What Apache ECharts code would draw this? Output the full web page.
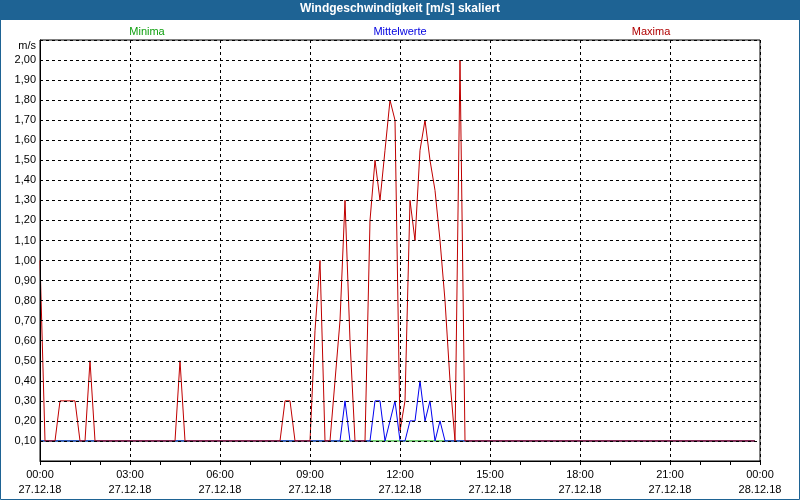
<!DOCTYPE html>
<html>
<head>
<meta charset="utf-8">
<script src="https://cdn.jsdelivr.net/npm/echarts@6/dist/echarts.min.js"></script>
<style>
html,body{margin:0;padding:0;background:#fff;}
#chart{width:800px;height:500px;}
</style>
</head>
<body>
<div id="chart"></div>
<script>
// ---- data (10-minute samples, 27.12.18 00:00 .. 23:50) ----
const titleText = 'Windgeschwindigkeit [m/s] skaliert';
const unitLabel = 'm/s';
const dayLabels = ['27.12.18', '28.12.18'];
const stepMinutes = 10;
const seriesNames = ['Minima', 'Mittelwerte', 'Maxima'];

const minValues = [
  0.1,0.1,0.1,0.1,0.1,0.1,0.1,0.1,0.1,0.1,0.1,0.1,
  0.1,0.1,0.1,0.1,0.1,0.1,0.1,0.1,0.1,0.1,0.1,0.1,
  0.1,0.1,0.1,0.1,0.1,0.1,0.1,0.1,0.1,0.1,0.1,0.1,
  0.1,0.1,0.1,0.1,0.1,0.1,0.1,0.1,0.1,0.1,0.1,0.1,
  0.1,0.1,0.1,0.1,0.1,0.1,0.1,0.1,0.1,0.1,0.1,0.1,
  0.1,0.1,0.1,0.1,0.1,0.1,0.1,0.1,0.1,0.1,0.1,0.1,
  0.1,0.1,0.1,0.1,0.1,0.1,0.1,0.1,0.1,0.1,0.1,0.1,
  0.1,0.1,0.1,0.1,0.1,0.1,0.1,0.1,0.1,0.1,0.1,0.1,
  0.1,0.1,0.1,0.1,0.1,0.1,0.1,0.1,0.1,0.1,0.1,0.1,
  0.1,0.1,0.1,0.1,0.1,0.1,0.1,0.1,0.1,0.1,0.1,0.1,
  0.1,0.1,0.1,0.1,0.1,0.1,0.1,0.1,0.1,0.1,0.1,0.1,
  0.1,0.1,0.1,0.1,0.1,0.1,0.1,0.1,0.1,0.1,0.1,0.1
];

const meanValues = [
  0.1,0.1,0.1,0.1,0.1,0.1,0.1,0.1,0.1,0.1,0.1,0.1,
  0.1,0.1,0.1,0.1,0.1,0.1,0.1,0.1,0.1,0.1,0.1,0.1,
  0.1,0.1,0.1,0.1,0.1,0.1,0.1,0.1,0.1,0.1,0.1,0.1,
  0.1,0.1,0.1,0.1,0.1,0.1,0.1,0.1,0.1,0.1,0.1,0.1,
  0.1,0.1,0.1,0.1,0.1,0.1,0.1,0.1,0.1,0.1,0.1,0.1,
  0.1,0.3,0.1,0.1,0.1,0.1,0.1,0.3,0.3,0.1,0.2,0.3,
  0.1,0.1,0.2,0.2,0.4,0.2,0.3,0.1,0.2,0.1,0.1,0.1,
  0.1,0.1,0.1,0.1,0.1,0.1,0.1,0.1,0.1,0.1,0.1,0.1,
  0.1,0.1,0.1,0.1,0.1,0.1,0.1,0.1,0.1,0.1,0.1,0.1,
  0.1,0.1,0.1,0.1,0.1,0.1,0.1,0.1,0.1,0.1,0.1,0.1,
  0.1,0.1,0.1,0.1,0.1,0.1,0.1,0.1,0.1,0.1,0.1,0.1,
  0.1,0.1,0.1,0.1,0.1,0.1,0.1,0.1,0.1,0.1,0.1,0.1
];

const maxValues = [
  1.0,0.1,0.1,0.1,0.3,0.3,0.3,0.3,0.1,0.1,0.5,0.1,
  0.1,0.1,0.1,0.1,0.1,0.1,0.1,0.1,0.1,0.1,0.1,0.1,
  0.1,0.1,0.1,0.1,0.5,0.1,0.1,0.1,0.1,0.1,0.1,0.1,
  0.1,0.1,0.1,0.1,0.1,0.1,0.1,0.1,0.1,0.1,0.1,0.1,
  0.1,0.3,0.3,0.1,0.1,0.1,0.1,0.65,1.0,0.1,0.1,0.4,
  0.7,1.3,0.6,0.1,0.1,0.1,1.2,1.5,1.3,1.55,1.8,1.7,
  0.15,0.3,1.3,1.1,1.55,1.7,1.5,1.35,1.1,0.8,0.4,0.1,
  2.0,0.1,0.1,0.1,0.1,0.1,0.1,0.1,0.1,0.1,0.1,0.1,
  0.1,0.1,0.1,0.1,0.1,0.1,0.1,0.1,0.1,0.1,0.1,0.1,
  0.1,0.1,0.1,0.1,0.1,0.1,0.1,0.1,0.1,0.1,0.1,0.1,
  0.1,0.1,0.1,0.1,0.1,0.1,0.1,0.1,0.1,0.1,0.1,0.1,
  0.1,0.1,0.1,0.1,0.1,0.1,0.1,0.1,0.1,0.1,0.1,0.1
];

// ---- styling ----
const FONT = 'Liberation Sans';
const colors = ['#00a000', '#0000f0', '#c00000'];
const legendColors = ['#10a010', '#0000e0', '#b00000'];
const frameBlue = '#1e6394';

const toPairs = vals => vals.map((v, i) => [i * stepMinutes, v]);
const pad = n => (n < 10 ? '0' : '') + n;

const chart = echarts.init(document.getElementById('chart'), null, {renderer: 'canvas'});

const option = {
  animation: false,
  backgroundColor: '#fff',
  textStyle: {fontFamily: FONT},
  title: {
    text: titleText,
    left: 'center',
    top: 3,
    padding: 0,
    textStyle: {color: '#fff', fontSize: 12, fontWeight: 'bold', fontFamily: FONT}
  },
  graphic: [
    {type: 'rect', shape: {x: 0, y: 0, width: 800, height: 20}, style: {fill: frameBlue}, z: 0},
    {type: 'rect', shape: {x: 0.5, y: 0.5, width: 799, height: 499}, style: {fill: 'none', stroke: frameBlue, lineWidth: 1}, z: 0},
    {type: 'text', x: 147, y: 32, style: {text: seriesNames[0], fill: legendColors[0], font: '11px "' + FONT + '"', textAlign: 'center', textVerticalAlign: 'middle'}},
    {type: 'text', x: 400, y: 32, style: {text: seriesNames[1], fill: legendColors[1], font: '11px "' + FONT + '"', textAlign: 'center', textVerticalAlign: 'middle'}},
    {type: 'text', x: 651, y: 32, style: {text: seriesNames[2], fill: legendColors[2], font: '11px "' + FONT + '"', textAlign: 'center', textVerticalAlign: 'middle'}},
    {type: 'text', x: 36, y: 46, style: {text: unitLabel, fill: '#000', font: '11px "' + FONT + '"', textAlign: 'right', textVerticalAlign: 'middle'}}
  ],
  grid: {
    left: 40, right: 40, top: 40, bottom: 39,
    show: true, borderColor: '#000', borderWidth: 1, backgroundColor: '#fff'
  },
  xAxis: {
    type: 'value',
    min: 0, max: 1440, interval: 180,
    z: 10,
    axisLine: {show: true, lineStyle: {color: '#000', width: 1}},
    axisTick: {show: true, length: 4, lineStyle: {color: '#000'}},
    minorTick: {show: true, splitNumber: 3, length: 4, lineStyle: {color: '#000'}},
    splitLine: {show: true, lineStyle: {color: '#000', width: 1, type: [3, 3]}},
    axisLabel: {
      show: true, fontSize: 11, color: '#000', fontFamily: FONT,
      lineHeight: 15, margin: 6,
      showMinLabel: true, showMaxLabel: true,
      formatter: v => {
        const day = Math.floor(v / 1440);
        const m = v - day * 1440;
        return pad(Math.floor(m / 60)) + ':' + pad(m % 60) + '\n' + dayLabels[day];
      }
    }
  },
  yAxis: {
    type: 'value',
    min: 0, max: 2.1, interval: 0.1,
    z: 10,
    axisLine: {show: true, lineStyle: {color: '#000', width: 1}},
    axisTick: {show: false},
    splitLine: {show: true, lineStyle: {color: '#000', width: 1, type: [3, 3]}},
    axisLabel: {
      fontSize: 11, color: '#000', fontFamily: FONT, margin: 4,
      formatter: v => (v < 0.05 || v > 2.05) ? '' : v.toFixed(2).replace('.', ',')
    }
  },
  series: [
    {name: seriesNames[0], type: 'line', data: toPairs(minValues), symbol: 'none', silent: true, z: 2,
     lineStyle: {color: colors[0], width: 1}, itemStyle: {color: colors[0]}},
    {name: seriesNames[1], type: 'line', data: toPairs(meanValues), symbol: 'none', silent: true, z: 3,
     lineStyle: {color: colors[1], width: 1}, itemStyle: {color: colors[1]}},
    {name: seriesNames[2], type: 'line', data: toPairs(maxValues), symbol: 'none', silent: true, z: 4,
     lineStyle: {color: colors[2], width: 1}, itemStyle: {color: colors[2]}}
  ]
};

chart.setOption(option);
</script>
</body>
</html>
